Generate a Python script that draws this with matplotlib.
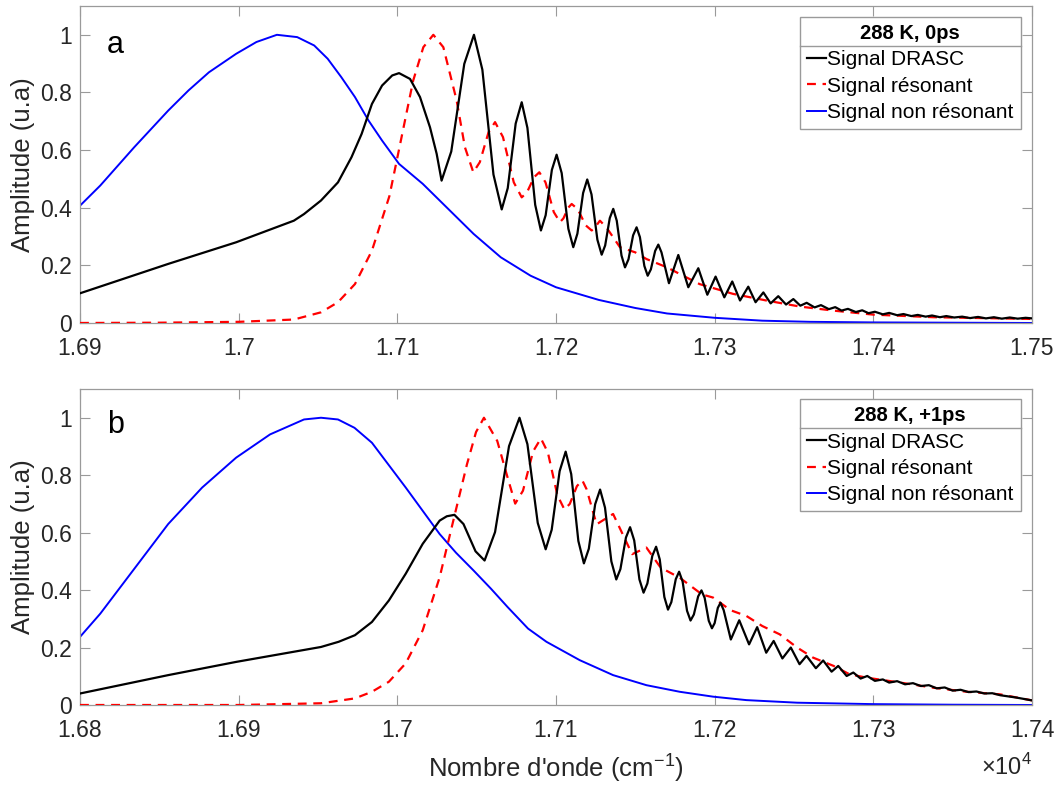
import numpy as np
import matplotlib
matplotlib.use("Agg")
import matplotlib.pyplot as plt
from matplotlib.ticker import FuncFormatter
from matplotlib.lines import Line2D

plt.rcParams["font.family"] = ["Liberation Sans", "DejaVu Sans"]
plt.rcParams["mathtext.fontset"] = "custom"
plt.rcParams["mathtext.rm"] = "Liberation Sans"

# ── Panel a : 288 K, 0ps  (x in units of 1e4 cm^-1) ─────────────────────
A_BLUE_X = [1.69000, 1.69128, 1.69342, 1.69556, 1.69684, 1.69813, 1.69984, 1.70112,
            1.70241, 1.70369, 1.70476, 1.70561, 1.70647, 1.70733, 1.70818, 1.70904,
            1.71011, 1.71160, 1.71267, 1.71481, 1.71652, 1.71840, 1.72000, 1.72270,
            1.72500, 1.72700, 1.73000, 1.73300, 1.73600, 1.74000, 1.74500, 1.75000]
A_BLUE_Y = [0.407, 0.477, 0.610, 0.737, 0.807, 0.870, 0.934, 0.975,
            1.000, 0.992, 0.963, 0.917, 0.853, 0.784, 0.703, 0.633,
            0.552, 0.483, 0.425, 0.309, 0.228, 0.164, 0.124, 0.080,
            0.052, 0.033, 0.018, 0.008, 0.004, 0.002, 0.001, 0.000]

A_BLACK_X = [1.69000, 1.69556, 1.69984, 1.70348, 1.70412, 1.70519, 1.70626, 1.70711,
             1.70775, 1.70840, 1.70904, 1.70968, 1.71011, 1.71080, 1.71143, 1.71206,
             1.71248, 1.71279, 1.71340, 1.71422, 1.71483, 1.71536, 1.71606, 1.71658,
             1.71696, 1.71746, 1.71784, 1.71820, 1.71869, 1.71905, 1.71935, 1.71974,
             1.72004, 1.72036, 1.72078, 1.72109, 1.72135, 1.72171, 1.72197, 1.72224,
             1.72261, 1.72288, 1.72310, 1.72339, 1.72361, 1.72383, 1.72413, 1.72435,
             1.72457, 1.72486, 1.72508, 1.72529, 1.72557, 1.72578, 1.72598, 1.72625,
             1.72645, 1.72665, 1.72712, 1.72771, 1.72834, 1.72897, 1.72954, 1.73006,
             1.73061, 1.73111, 1.73160, 1.73212, 1.73258, 1.73307, 1.73353, 1.73401,
             1.73450, 1.73496, 1.7354, 1.7358, 1.7363, 1.7367, 1.7372, 1.7376,
             1.7380, 1.7384, 1.7389, 1.7393, 1.7397, 1.7401, 1.7406, 1.7410,
             1.7415, 1.7419, 1.7424, 1.7428, 1.7433, 1.7437, 1.7442, 1.7446,
             1.7451, 1.7456, 1.7461, 1.7466, 1.7471, 1.7476, 1.7481, 1.7486,
             1.7491, 1.7496, 1.7500]
A_BLACK_Y = [0.103, 0.205, 0.280, 0.355, 0.378, 0.425, 0.488, 0.575,
             0.656, 0.760, 0.824, 0.859, 0.867, 0.847, 0.784, 0.679,
             0.587, 0.494, 0.595, 0.899, 1.000, 0.879, 0.515, 0.394,
             0.468, 0.692, 0.766, 0.677, 0.410, 0.321, 0.374, 0.531,
             0.584, 0.520, 0.327, 0.263, 0.310, 0.451, 0.498, 0.446,
             0.289, 0.237, 0.269, 0.364, 0.396, 0.355, 0.234, 0.193,
             0.221, 0.304, 0.332, 0.298, 0.198, 0.164, 0.186, 0.250,
             0.272, 0.245, 0.138, 0.236, 0.124, 0.190, 0.098, 0.161,
             0.089, 0.144, 0.078, 0.126, 0.072, 0.106, 0.068, 0.093,
             0.064, 0.083, 0.060, 0.070, 0.054, 0.062, 0.048, 0.055,
             0.043, 0.049, 0.038, 0.044, 0.034, 0.039, 0.030, 0.035,
             0.027, 0.031, 0.024, 0.028, 0.022, 0.026, 0.020, 0.024,
             0.019, 0.022, 0.017, 0.021, 0.016, 0.020, 0.015, 0.019,
             0.015, 0.018, 0.016]

A_RED_X = [1.69000, 1.69500, 1.70000, 1.70348, 1.70519, 1.70626, 1.70733, 1.70840,
           1.70950, 1.71010, 1.71100, 1.71164, 1.71227, 1.71290, 1.71374, 1.71426,
           1.71479, 1.71520, 1.71575, 1.71616, 1.71666, 1.71734, 1.71784, 1.71817,
           1.71862, 1.71895, 1.71934, 1.71986, 1.72025, 1.72047, 1.72077, 1.72099,
           1.72137, 1.72187, 1.72225, 1.72241, 1.72277, 1.72320, 1.72403, 1.72500,
           1.72570, 1.72700, 1.72780, 1.72905, 1.73116, 1.73326, 1.73537, 1.73747,
           1.74000, 1.74379, 1.75000]
A_RED_Y = [0.000, 0.001, 0.004, 0.012, 0.037, 0.072, 0.135, 0.251,
           0.440, 0.600, 0.841, 0.957, 1.000, 0.957, 0.772, 0.610,
           0.523, 0.558, 0.662, 0.697, 0.645, 0.488, 0.436, 0.453,
           0.506, 0.523, 0.488, 0.385, 0.350, 0.363, 0.400, 0.413,
           0.395, 0.339, 0.321, 0.328, 0.355, 0.330, 0.263, 0.245,
           0.222, 0.193, 0.170, 0.135, 0.101, 0.078, 0.057, 0.043,
           0.029, 0.020, 0.014]

# ── Panel b : 288 K, +1ps ──────────────────────────────────────────────
B_BLUE_X = [1.68000, 1.68128, 1.68342, 1.68556, 1.68770, 1.68984, 1.69198, 1.69412,
            1.69519, 1.69626, 1.69730, 1.69840, 1.70053, 1.70160, 1.70267, 1.70370,
            1.70481, 1.70590, 1.70695, 1.70824, 1.70940, 1.71150, 1.71360, 1.71570,
            1.71780, 1.71990, 1.72200, 1.72520, 1.73000, 1.73500, 1.74000]
B_BLUE_Y = [0.237, 0.318, 0.474, 0.630, 0.757, 0.861, 0.942, 0.994,
            1.000, 0.994, 0.965, 0.913, 0.757, 0.676, 0.595, 0.530,
            0.468, 0.405, 0.341, 0.266, 0.220, 0.156, 0.104, 0.069,
            0.046, 0.029, 0.017, 0.008, 0.003, 0.001, 0.000]

B_BLACK_X = [1.68000, 1.68556, 1.68984, 1.69519, 1.69630, 1.69733, 1.69840, 1.69947,
             1.70053, 1.70160, 1.70267, 1.70312, 1.70360, 1.70417, 1.70493, 1.70550,
             1.70616, 1.70704, 1.70770, 1.70820, 1.70885, 1.70935, 1.70973, 1.71023,
             1.71061, 1.71096, 1.71141, 1.71176, 1.71207, 1.71247, 1.71278, 1.71309,
             1.71349, 1.71380, 1.71406, 1.71441, 1.71467, 1.71493, 1.71526, 1.71552,
             1.71576, 1.71607, 1.71631, 1.71654, 1.71683, 1.71706, 1.71727, 1.71755,
             1.71776, 1.71798, 1.71826, 1.71848, 1.71869, 1.71896, 1.71917, 1.71937,
             1.71963, 1.71983, 1.72000, 1.72020, 1.72037, 1.72057, 1.72102, 1.72155,
             1.72217, 1.72268, 1.72325, 1.72372, 1.72427, 1.72480, 1.72535, 1.72579,
             1.72638, 1.72684, 1.72737, 1.72779, 1.72832, 1.72874, 1.72920, 1.72962,
             1.73010, 1.7306, 1.7310, 1.7315, 1.7320, 1.7325, 1.7330, 1.7335,
             1.7340, 1.7345, 1.7350, 1.7355, 1.7360, 1.7365, 1.7370, 1.7375,
             1.7380, 1.7390, 1.7400]
B_BLACK_Y = [0.040, 0.104, 0.150, 0.202, 0.220, 0.243, 0.289, 0.364,
             0.457, 0.561, 0.642, 0.657, 0.662, 0.630, 0.535, 0.503,
             0.602, 0.901, 1.000, 0.908, 0.634, 0.542, 0.610, 0.814,
             0.882, 0.804, 0.571, 0.493, 0.544, 0.699, 0.750, 0.687,
             0.500, 0.437, 0.473, 0.583, 0.619, 0.573, 0.437, 0.391,
             0.423, 0.519, 0.551, 0.507, 0.376, 0.332, 0.358, 0.438,
             0.464, 0.430, 0.328, 0.294, 0.315, 0.378, 0.399, 0.373,
             0.293, 0.267, 0.285, 0.338, 0.356, 0.330, 0.228, 0.295,
             0.211, 0.271, 0.182, 0.223, 0.162, 0.200, 0.142, 0.171,
             0.128, 0.155, 0.116, 0.136, 0.101, 0.113, 0.092, 0.101,
             0.084, 0.089, 0.078, 0.083, 0.072, 0.076, 0.066, 0.069,
             0.058, 0.061, 0.050, 0.053, 0.045, 0.047, 0.040, 0.041,
             0.034, 0.026, 0.016]

B_RED_X = [1.68000, 1.69000, 1.69519, 1.69733, 1.69840, 1.69947, 1.70053, 1.70160,
           1.70267, 1.70353, 1.70439, 1.70496, 1.70546, 1.70630, 1.70695, 1.70743,
           1.70792, 1.70856, 1.70905, 1.70949, 1.71009, 1.71053, 1.71087, 1.71132,
           1.71166, 1.71193, 1.71256, 1.71360, 1.71480, 1.71570, 1.71660, 1.71780,
           1.71920, 1.71990, 1.72100, 1.72200, 1.72300, 1.72410, 1.72520, 1.72620,
           1.72750, 1.72850, 1.72960, 1.73170, 1.73380, 1.73590, 1.73800, 1.74000]
B_RED_Y = [0.000, 0.000, 0.006, 0.023, 0.046, 0.081, 0.145, 0.260,
           0.445, 0.642, 0.838, 0.950, 1.000, 0.919, 0.792, 0.701,
           0.746, 0.883, 0.928, 0.879, 0.730, 0.681, 0.700, 0.762,
           0.782, 0.751, 0.629, 0.665, 0.525, 0.548, 0.478, 0.443,
           0.385, 0.374, 0.330, 0.310, 0.275, 0.246, 0.200, 0.165,
           0.136, 0.107, 0.095, 0.078, 0.060, 0.046, 0.037, 0.016]

LABELS = ["Signal DRASC", "Signal résonant", "Signal non résonant"]
TITLES = ["288 K, 0ps", "288 K, +1ps"]
XTICKS_A = [1.69, 1.70, 1.71, 1.72, 1.73, 1.74, 1.75]
XTICKS_B = [1.68, 1.69, 1.70, 1.71, 1.72, 1.73, 1.74]
YTICKS = [0, 0.2, 0.4, 0.6, 0.8, 1.0]

AX_COL = "#262626"
SPINE_COL = "#9a9a9a"

fig = plt.figure(figsize=(10.58, 7.87), dpi=100)
ax1 = fig.add_axes([0.0756, 0.5896, 0.8998, 0.4028])
ax2 = fig.add_axes([0.0756, 0.1042, 0.8998, 0.4015])

panels = [
    (ax1, A_BLACK_X, A_BLACK_Y, A_RED_X, A_RED_Y, A_BLUE_X, A_BLUE_Y, XTICKS_A, "a", TITLES[0], 0.877, 0.965),
    (ax2, B_BLACK_X, B_BLACK_Y, B_RED_X, B_RED_Y, B_BLUE_X, B_BLUE_Y, XTICKS_B, "b", TITLES[1], 0.886, 0.968),
]

for ax, bx, by, rx, ry, ux, uy, xt, letter, title, ly, legy in panels:
    l1, = ax.plot(bx, by, color="black", linewidth=1.6, zorder=4)
    l2, = ax.plot(rx, ry, color="red", linewidth=1.6, linestyle=(0, (4, 3)), zorder=3)
    l3, = ax.plot(ux, uy, color="blue", linewidth=1.4, zorder=2)

    ax.set_xlim(xt[0], xt[-1])
    ax.set_ylim(0, 1.1)
    ax.set_xticks(xt)
    ax.set_yticks(YTICKS)
    ax.xaxis.set_major_formatter(FuncFormatter(lambda v, p: "%g" % round(v, 4)))
    ax.yaxis.set_major_formatter(FuncFormatter(lambda v, p: "%g" % round(v, 4)))
    ax.tick_params(direction="in", length=7, width=0.8, top=True, right=True,
                   labelsize=16.5, colors=SPINE_COL, labelcolor=AX_COL)
    ax.tick_params(axis="x", pad=10)
    ax.tick_params(axis="y", pad=6)
    for s in ax.spines.values():
        s.set_color(SPINE_COL)
        s.set_linewidth(0.9)
    ax.set_ylabel("Amplitude (u.a)", fontsize=18.5, color=AX_COL)
    ax.yaxis.set_label_coords(-0.06, 0.5)
    ax.yaxis.label.set_va("center")
    ax.text(0.0373, ly, letter, transform=ax.transAxes,
            fontsize=22, color="black", ha="center", va="center")

    leg = ax.legend([l1, l2, l3], LABELS, loc="upper right", bbox_to_anchor=(0.9884, legy),
                    fontsize=15, title=title, frameon=True, fancybox=False,
                    edgecolor=SPINE_COL, framealpha=1.0, borderpad=0.34,
                    handlelength=0.95, handletextpad=0.05, labelspacing=0.35,
                    borderaxespad=0.0)
    leg.get_title().set_fontweight("bold")
    leg.get_title().set_fontsize(14.5)
    leg.get_frame().set_linewidth(1.0)

    fig.canvas.draw()
    fb = leg.get_frame().get_window_extent()
    tb = leg.get_title().get_window_extent()
    inv = ax.transAxes.inverted()
    (x0, ysep), (x1, _) = inv.transform([(fb.x0, tb.y0 - 3), (fb.x1, tb.y0 - 3)])
    ax.add_line(Line2D([x0, x1], [ysep, ysep], transform=ax.transAxes,
                       color=SPINE_COL, linewidth=1.0, zorder=10))

ax2.set_xlabel("Nombre d'onde (cm$^{-1}$)", fontsize=18.5, color=AX_COL)
ax2.xaxis.set_label_coords(0.5, -0.199)
ax2.xaxis.label.set_va("center")
ax2.text(1.0, -0.196, "×10$^{4}$", transform=ax2.transAxes, fontsize=17,
         color=AX_COL, ha="right", va="center")

fig.savefig("out.png", dpi=100)
